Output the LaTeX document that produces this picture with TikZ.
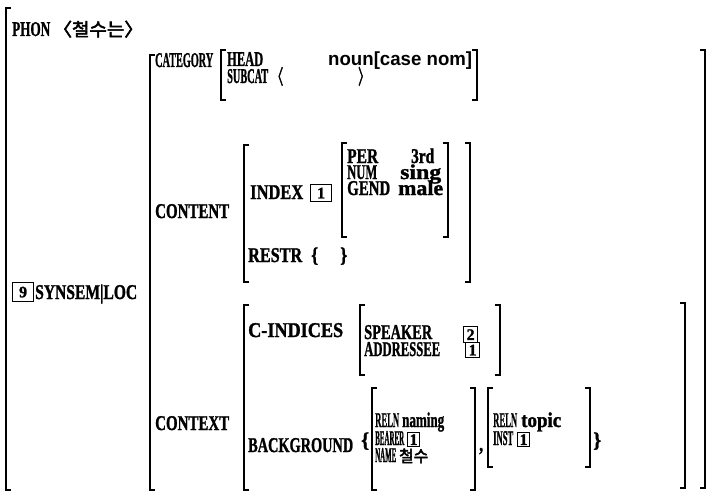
\documentclass[tikz,border=0pt]{standalone}
\usepackage{fontspec}
\usepackage{graphicx}
\setmainfont{Liberation Serif}[BoldFeatures={FakeBold=1.5}]
\newfontfamily\kr[FakeBold=3]{Noto Sans CJK KR}
\newfontfamily\lsans{Liberation Sans}
\newlength\fitlen
\newcommand{\fitw}[2]{\settowidth{\fitlen}{#2}\pgfmathsetmacro\fitsx{#1/\fitlen}\scalebox{\fitsx}[1]{#2}}
\newcommand{\Tx}[4]{\node[txt] (#1) at (#2) {\fitw{#3}{#4}};}
\newcommand{\LB}[3]{\draw[brk] (#1+5,#2) -- (#1,#2) -- (#1,#3) -- (#1+5,#3);}
\newcommand{\RB}[3]{\draw[brk] (#1-5,#2) -- (#1,#2) -- (#1,#3) -- (#1-5,#3);}
\tikzset{
  txt/.style={anchor=base west, inner sep=0pt, font=\fontsize{21}{21}\selectfont\bfseries},
  brk/.style={line width=1.7pt, line cap=butt, line join=miter},
  tagbox/.style={draw, line width=1.2pt, inner sep=0pt, font=\fontsize{16}{16}\selectfont\bfseries, anchor=north west}
}
\begin{document}
\begin{tikzpicture}[x=1pt,y=-1pt]
\useasboundingbox (0,0) rectangle (722,492);
% brackets
\LB{6}{8}{490}
\LB{150}{55}{490}
\RB{705}{50}{488}
\LB{221}{50}{100}
\RB{477}{50}{100}
\LB{244}{145}{282}
\RB{470}{143}{282}
\LB{342}{143}{237}
\RB{448}{143}{237}
\LB{244}{305}{490}
\RB{685}{303}{488}
\LB{360}{305}{375}
\RB{500}{305}{375}
\LB{372}{388}{490}
\RB{475}{388}{490}
\LB{488}{388}{467}
\RB{590}{388}{467}
% PHON
\Tx{phon}{12,36}{38}{PHON}
\node[txt, font=\fontsize{18}{18}\selectfont\kr] (phonv) at (53,36) {\fitw{90}{〈철수는〉}};
% SYNSEM|LOC
\node[tagbox, minimum width=21pt, minimum height=19pt] (t9) at (12,282) {9};
\Tx{synsem}{35,299}{102}{SYNSEM|LOC}
% CATEGORY
\Tx{cat}{155,67}{58}{CATEGORY}
\Tx{head}{227,66}{36}{HEAD}
\node[txt, font=\fontsize{19}{19}\selectfont\lsans\bfseries] (headv) at (328,66) {\fitw{144}{noun[case nom]}};
\Tx{subcat}{227,83}{41}{SUBCAT}
\node[txt, font=\fontsize{20}{20}\selectfont\kr] (subl) at (272,84) {\fitw{11}{〈}};
\node[txt, font=\fontsize{20}{20}\selectfont\kr] (subr) at (358,84) {\fitw{11}{〉}};
% CONTENT
\Tx{content}{155,218}{74}{CONTENT}
\Tx{index}{250,199}{53}{INDEX}
\node[tagbox, minimum width=21pt, minimum height=17pt] (t1a) at (310,184) {1};
\Tx{per}{347,163}{31}{PER}
\Tx{perv}{411,163}{23}{3rd}
\Tx{num}{347,179}{30}{NUM}
\Tx{numv}{400,179}{41}{sing}
\Tx{gend}{347,195}{43}{GEND}
\Tx{gendv}{398,195}{45}{male}
\Tx{restr}{248,262}{54}{RESTR}
\Tx{restrl}{311,262}{7}{\{}
\Tx{restrr}{340,262}{7}{\}}
% CONTEXT
\Tx{context}{155,430}{74}{CONTEXT}
\Tx{cind}{248,337}{95}{C-INDICES}
\Tx{speaker}{364,339}{68}{SPEAKER}
\node[tagbox, minimum width=14pt, minimum height=16pt] (t2) at (463,326) {2};
\Tx{addr}{364,356}{76}{ADDRESSEE}
\node[tagbox, minimum width=14pt, minimum height=15pt] (t1b) at (465,342) {1};
\Tx{backg}{248,452}{105}{BACKGROUND}
\Tx{bgl}{361,447}{8}{\{}
\Tx{reln1}{375,427}{24}{RELN}
\Tx{naming}{402,427}{42}{naming}
\Tx{bearer}{375,445}{29}{BEARER}
\node[tagbox, minimum width=12pt, minimum height=14pt] (t1c) at (407,432) {1};
\Tx{name}{375,462}{21}{NAME}
\node[txt, font=\fontsize{16}{16}\selectfont\kr] (namev) at (399,462) {\fitw{29}{철수}};
\Tx{comma}{479,451}{4}{,}
\Tx{reln2}{493,427}{24}{RELN}
\Tx{topic}{521,427}{40}{topic}
\Tx{inst}{493,445}{20}{INST}
\node[tagbox, minimum width=12pt, minimum height=14pt] (t1d) at (517,432) {1};
\Tx{bgr}{593,447}{8}{\}}
\end{tikzpicture}
\end{document}
